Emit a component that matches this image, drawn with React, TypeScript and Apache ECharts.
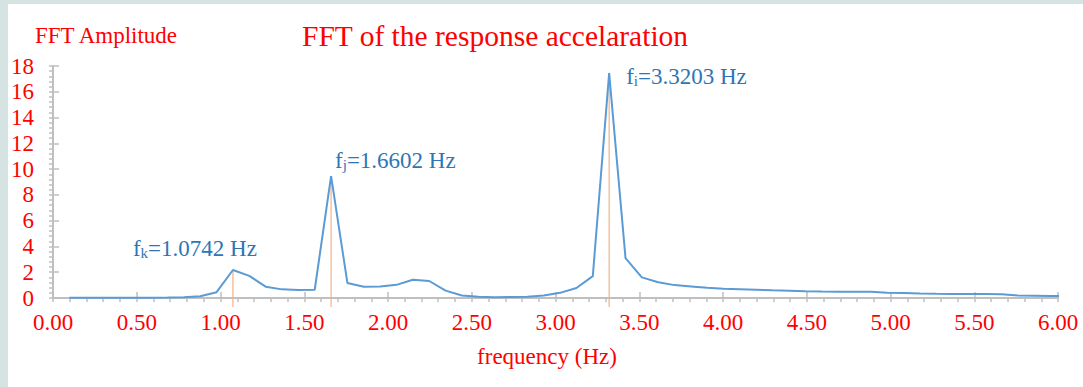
import React, { useEffect, useRef } from "react";
import * as echarts from "echarts";

// Frequencies (Hz) of the FFT bins
const freq = [
  0.0977, 0.1953, 0.293, 0.3906, 0.4883, 0.5859, 0.6836, 0.7813, 0.8789, 0.9766,
  1.0742, 1.1719, 1.2695, 1.3672, 1.4648, 1.5625, 1.6602, 1.7578, 1.8555, 1.9531,
  2.0508, 2.1484, 2.2461, 2.3438, 2.4414, 2.5391, 2.6367, 2.7344, 2.832, 2.9297,
  3.0273, 3.125, 3.2227, 3.3203, 3.418, 3.5156, 3.6133, 3.7109, 3.8086, 3.9063,
  4.0039, 4.1016, 4.1992, 4.2969, 4.3945, 4.4922, 4.5898, 4.6875, 4.7852, 4.8828,
  4.9805, 5.0781, 5.1758, 5.2734, 5.3711, 5.4688, 5.5664, 5.6641, 5.7617, 5.8594,
  5.957, 6.0547,
];
// FFT amplitude per bin
const amplitude = [
  0.02, 0.02, 0.02, 0.02, 0.02, 0.02, 0.03, 0.06, 0.14, 0.45,
  2.17, 1.72, 0.88, 0.67, 0.62, 0.64, 9.45, 1.16, 0.87, 0.9,
  1.02, 1.42, 1.32, 0.57, 0.2, 0.1, 0.05, 0.08, 0.1, 0.2,
  0.4, 0.78, 1.7, 17.45, 3.1, 1.6, 1.22, 1.0, 0.9, 0.8,
  0.72, 0.68, 0.64, 0.6, 0.57, 0.52, 0.5, 0.49, 0.49, 0.48,
  0.4, 0.39, 0.35, 0.33, 0.32, 0.31, 0.31, 0.3, 0.2, 0.18,
  0.16, 0.15,
];
// Annotated peaks
const peakFreq = [1.0742, 1.6602, 3.3203];
const peakAmp = [2.17, 9.45, 17.45];
const peakSub = ["k", "j", "i"];
const peakText = ["=1.0742 Hz", "=1.6602 Hz", "=3.3203 Hz"];

const titleText = "FFT of the response accelaration";
const yTitle = "FFT Amplitude";
const xTitle = "frequency (Hz)";

const SERIF = '"Liberation Serif", "Times New Roman", serif';
const RED = "#ff0000";
const BLUE_TXT = "#2e75b6";
const GRAY = "#bfbfbf";

// label offsets relative to each peak point (px): [dx to left edge, dy to text bottom]
const labelOffsets = [
  [-100, -10],
  [4, -4],
  [17, 15],
];

export default function App() {
  const ref = useRef<HTMLDivElement>(null);
  useEffect(() => {
    if (!ref.current) return;
    const chart = echarts.init(ref.current, null, { renderer: "svg" });
    const lineData = freq.map((f, i) => [f, amplitude[i]]);
    const peakData = peakFreq.map((f, i) => [f, peakAmp[i], i]);
    const tickLine = { lineStyle: { color: GRAY, width: 1.5 } };
    chart.setOption({
      animation: false,
      backgroundColor: "#ffffff",
      grid: { left: 44, top: 62, right: 25, bottom: 89, containLabel: false },
      xAxis: [
        {
          type: "value",
          min: 0,
          max: 6,
          interval: 0.5,
          position: "bottom",
          axisLine: { show: true, lineStyle: { color: GRAY, width: 2 } },
          axisTick: { show: true, inside: false, length: 4, ...tickLine },
          minorTick: { show: true, splitNumber: 5, length: 4, ...tickLine },
          splitLine: { show: false },
          minorSplitLine: { show: false },
          axisLabel: {
            margin: 13,
            color: RED,
            fontFamily: SERIF,
            fontSize: 23,
            formatter: (v: number) => v.toFixed(2),
          },
        },
        {
          type: "value",
          min: 0,
          max: 6,
          interval: 0.5,
          position: "bottom",
          offset: 0,
          axisLine: { show: false },
          axisTick: { show: true, inside: true, length: 6, ...tickLine },
          splitLine: { show: false },
          axisLabel: { show: false },
        },
      ],
      yAxis: [
        {
          type: "value",
          min: 0,
          max: 18,
          interval: 2,
          position: "left",
          axisLine: { show: true, lineStyle: { color: GRAY, width: 2 } },
          axisTick: { show: true, inside: false, length: 4, ...tickLine },
          minorTick: { show: true, splitNumber: 5, length: 4, ...tickLine },
          splitLine: { show: false },
          minorSplitLine: { show: false },
          axisLabel: {
            margin: 19,
            color: RED,
            fontFamily: SERIF,
            fontSize: 23,
          },
        },
        {
          type: "value",
          min: 0,
          max: 18,
          interval: 2,
          position: "left",
          offset: 0,
          axisLine: { show: false },
          axisTick: { show: true, inside: true, length: 6, ...tickLine },
          splitLine: { show: false },
          axisLabel: { show: false },
        },
      ],
      graphic: [
        {
          type: "text",
          left: 27,
          top: 20,
          style: { text: yTitle, fill: RED, font: `23px ${SERIF}` },
        },
        {
          type: "text",
          left: 294,
          top: 17,
          style: { text: titleText, fill: RED, font: `29.5px ${SERIF}` },
        },
        {
          type: "text",
          x: 539,
          y: 352,
          style: {
            text: xTitle,
            fill: RED,
            font: `23px ${SERIF}`,
            align: "center",
            verticalAlign: "middle",
          },
        },
      ],
      series: [
        {
          type: "custom",
          xAxisIndex: 0,
          yAxisIndex: 0,
          z: 1,
          clip: false,
          data: peakData,
          renderItem: (params: any, api: any) => {
            const i = api.value(2);
            const p = api.coord([api.value(0), api.value(1)]);
            const b = api.coord([api.value(0), 0]);
            const off = labelOffsets[i];
            return {
              type: "group",
              children: [
                {
                  type: "line",
                  shape: { x1: p[0], y1: p[1], x2: b[0], y2: b[1] + 9 },
                  style: { stroke: "#f4b183", lineWidth: 1.2 },
                },
                {
                  type: "text",
                  x: p[0] + off[0],
                  y: p[1] + off[1],
                  style: {
                    text: `{a|f}{s|${peakSub[i]}}{a|${peakText[i]}}`,
                    verticalAlign: "bottom",
                    align: "left",
                    fill: BLUE_TXT,
                    rich: {
                      a: {
                        fontFamily: SERIF,
                        fontSize: 23,
                        lineHeight: 26,
                        fill: BLUE_TXT,
                        verticalAlign: "bottom",
                      },
                      s: {
                        fontFamily: SERIF,
                        fontSize: 15,
                        lineHeight: 14,
                        fill: BLUE_TXT,
                        verticalAlign: "bottom",
                      },
                    },
                  },
                },
              ],
            };
          },
        },
        {
          type: "line",
          xAxisIndex: 0,
          yAxisIndex: 0,
          z: 3,
          data: lineData,
          showSymbol: false,
          symbol: "none",
          clip: true,
          lineStyle: { color: "#5b9bd5", width: 2 },
        },
      ],
    });
    return () => chart.dispose();
  }, []);

  return (
    <div
      style={{
        position: "fixed",
        left: 0,
        top: 0,
        width: 1083,
        height: 387,
        background: "#d5e4e3",
      }}
    >
      <div
        ref={ref}
        style={{
          position: "absolute",
          left: 8,
          top: 4,
          width: 1075,
          height: 383,
          background: "#ffffff",
        }}
      />
    </div>
  );
}
